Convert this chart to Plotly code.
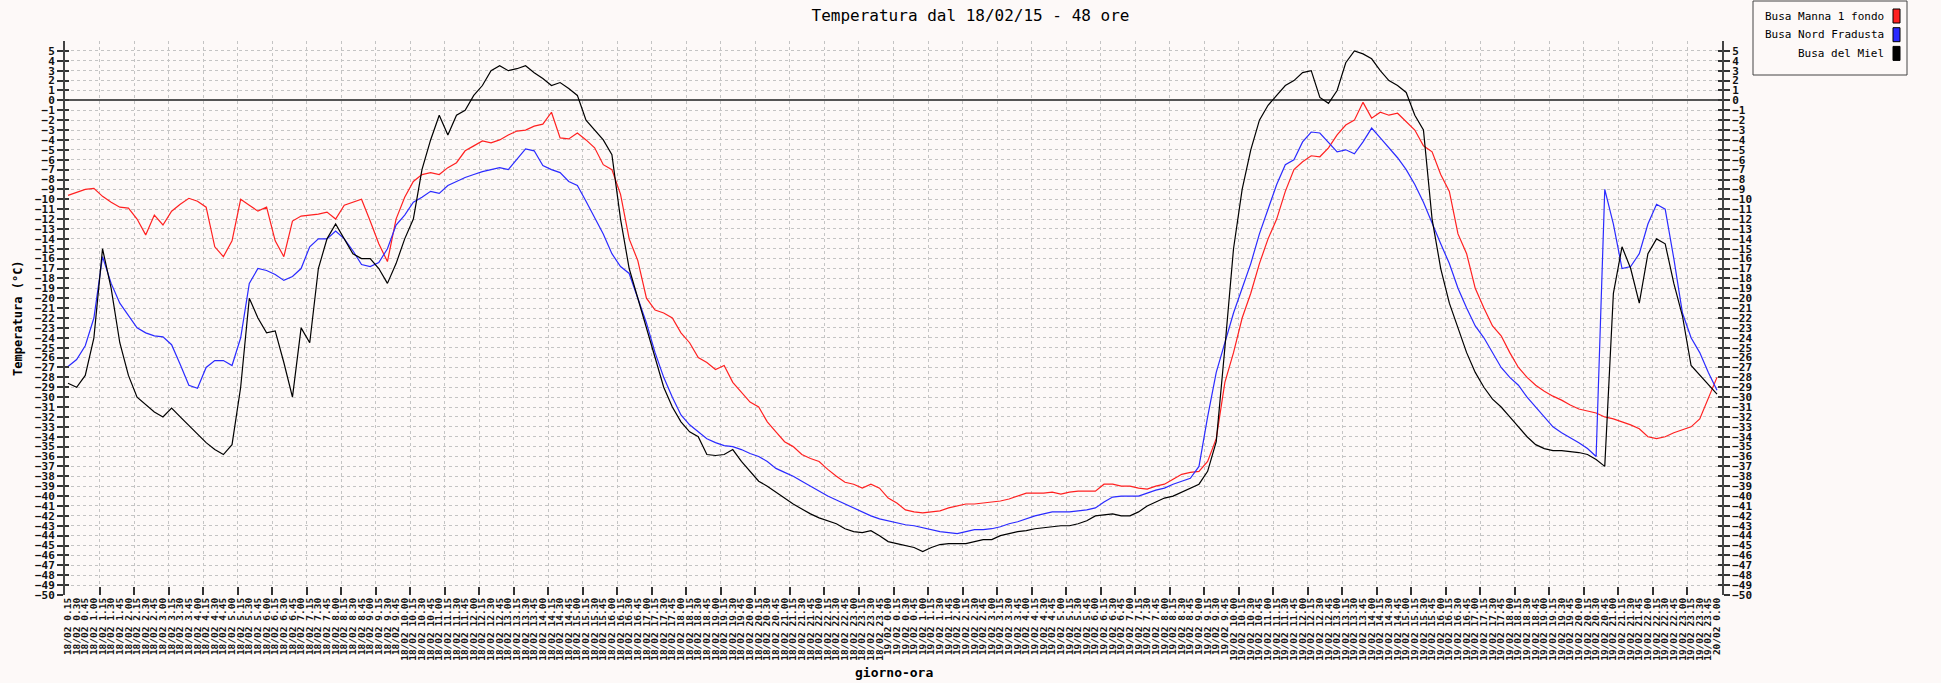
import plotly.graph_objects as go

# ---------------- data ----------------
red = [-9.6, -9.3, -9.0, -8.9, -9.7, -10.3, -10.8, -10.9, -12.0, -13.6,
       -11.6, -12.6, -11.2, -10.5, -9.9, -10.2, -10.8, -14.8, -15.8, -14.2,
       -10.0, -10.6, -11.2, -10.8, -14.2, -15.8, -12.2, -11.7, -11.6, -11.5,
       -11.3, -12.0, -10.6, -10.3, -10.0, -12.2, -14.5, -16.3, -12.0, -9.8,
       -8.2, -7.5, -7.3, -7.5, -6.8, -6.3, -5.1, -4.6, -4.1, -4.3,
       -4.0, -3.5, -3.1, -3.0, -2.6, -2.4, -1.2, -3.8, -3.9, -3.3,
       -4.0, -4.8, -6.5, -7.0, -9.5, -14.0, -16.2, -20.0, -21.2, -21.5,
       -22.0, -23.5, -24.5, -26.0, -26.5, -27.2, -26.8, -28.5, -29.5, -30.5,
       -31.0, -32.5, -33.5, -34.5, -35.0, -35.8, -36.2, -36.5, -37.3, -38.0,
       -38.6, -38.8, -39.2, -38.8, -39.2, -40.2, -40.7, -41.4, -41.6, -41.7,
       -41.6, -41.5, -41.2, -41.0, -40.8, -40.8, -40.7, -40.6, -40.5, -40.3,
       -40.0, -39.7, -39.7, -39.7, -39.6, -39.8, -39.6, -39.5, -39.5, -39.5,
       -38.8, -38.8, -39.0, -39.0, -39.2, -39.3, -39.0, -38.8, -38.3, -37.8,
       -37.6, -37.5, -36.5, -34.2, -28.5, -25.5, -22.0, -19.5, -16.5, -14.0,
       -12.0, -9.2, -7.0, -6.2, -5.6, -5.7, -4.8, -3.5, -2.5, -2.0,
       -0.2, -1.8, -1.2, -1.5, -1.3, -2.2, -3.0, -4.6, -5.2, -7.5,
       -9.2, -13.5, -15.5, -19.0, -21.0, -22.8, -23.8, -25.5, -27.0, -28.0,
       -28.8, -29.4, -29.9, -30.3, -30.8, -31.2, -31.4, -31.6, -32.0, -32.2,
       -32.5, -32.8, -33.2, -34.0, -34.2, -34.0, -33.6, -33.3, -33.0, -32.2,
       -30.0, -28.0]

blue = [-26.9, -26.2, -24.8, -22.0, -15.8, -18.5, -20.5, -21.8, -23.0, -23.5,
        -23.8, -23.9, -24.7, -26.7, -28.8, -29.1, -27.0, -26.3, -26.3, -26.8,
        -24.0, -18.5, -17.0, -17.2, -17.6, -18.2, -17.8, -17.0, -14.8, -14.0,
        -14.0, -13.2, -14.0, -15.2, -16.6, -16.8, -16.4, -15.0, -12.6, -11.6,
        -10.3, -9.8, -9.2, -9.4, -8.6, -8.2, -7.8, -7.5, -7.2, -7.0,
        -6.8, -7.0, -6.0, -4.9, -5.1, -6.6, -7.0, -7.3, -8.2, -8.6,
        -10.2, -11.8, -13.5, -15.5, -16.8, -17.5, -20.0, -22.5, -25.5, -28.0,
        -30.0, -31.8, -32.8, -33.5, -34.2, -34.6, -34.9, -35.0, -35.3, -35.7,
        -36.0, -36.5, -37.2, -37.6, -38.0, -38.5, -39.0, -39.5, -40.0, -40.4,
        -40.8, -41.2, -41.6, -42.0, -42.3, -42.5, -42.7, -42.9, -43.0, -43.2,
        -43.4, -43.6, -43.7, -43.8, -43.6, -43.4, -43.4, -43.3, -43.1, -42.8,
        -42.6, -42.3, -42.0, -41.8, -41.6, -41.6, -41.6, -41.5, -41.4, -41.2,
        -40.6, -40.1, -40.0, -40.0, -40.0, -39.7, -39.4, -39.2, -38.8, -38.5,
        -38.2, -37.0, -32.0, -27.5, -24.5, -21.5, -19.0, -16.5, -13.5, -11.0,
        -8.5, -6.5, -6.0, -4.2, -3.2, -3.3, -4.2, -5.2, -5.0, -5.4,
        -4.2, -2.8, -3.8, -4.8, -5.8, -7.0, -8.5, -10.3, -12.5, -14.5,
        -16.5, -19.0, -21.0, -22.8, -24.0, -25.5, -27.0, -28.0, -28.8, -30.0,
        -31.0, -32.0, -33.0, -33.6, -34.1, -34.6, -35.2, -36.0, -9.0, -12.5,
        -17.0, -16.8, -15.5, -12.5, -10.5, -11.0, -16.0, -21.5, -24.0, -25.5,
        -27.5, -29.3]

black = [-28.6, -29.0, -27.8, -24.0, -15.0, -19.0, -24.5, -27.8, -30.0, -30.8,
         -31.5, -32.0, -31.1, -32.0, -32.9, -33.8, -34.6, -35.3, -35.8, -34.8,
         -29.0, -20.0, -22.0, -23.5, -23.3, -26.5, -30.0, -23.0, -24.5, -17.0,
         -14.0, -12.5, -14.0, -15.5, -16.0, -16.0, -17.0, -18.5, -16.5, -14.0,
         -12.0, -7.0, -4.0, -1.5, -3.5, -1.5, -1.0, 0.5, 1.5, 3.0,
         3.5, 3.0, 3.2, 3.5, 2.8, 2.2, 1.5, 1.8, 1.2, 0.5,
         -2.0, -3.0, -4.0, -5.5, -12.0, -17.0, -20.0, -23.0, -26.0, -29.0,
         -31.0, -32.5, -33.5, -34.0, -35.8, -35.9, -35.8, -35.3, -36.5, -37.5,
         -38.5, -39.0, -39.6, -40.2, -40.8, -41.3, -41.8, -42.2, -42.5, -42.8,
         -43.3, -43.6, -43.7, -43.5, -44.0, -44.6, -44.8, -45.0, -45.2, -45.6,
         -45.2, -44.9, -44.8, -44.8, -44.8, -44.6, -44.4, -44.4, -44.0, -43.8,
         -43.6, -43.5, -43.3, -43.2, -43.1, -43.0, -43.0, -42.8, -42.5, -42.0,
         -41.9, -41.8, -42.0, -42.0, -41.6, -41.0, -40.6, -40.2, -40.0, -39.6,
         -39.2, -38.8, -37.5, -34.5, -25.0, -15.0, -9.0, -5.0, -2.0, -0.5,
         0.5, 1.5, 2.0, 2.8, 3.0, 0.3, -0.3, 1.0, 3.8, 5.0,
         4.7, 4.2, 3.0, 2.0, 1.5, 0.8, -1.5, -3.0, -12.0, -17.0,
         -20.5, -23.0, -25.5, -27.5, -29.0, -30.2, -31.0, -32.0, -33.0, -34.0,
         -34.8, -35.2, -35.4, -35.4, -35.5, -35.6, -35.8, -36.3, -37.0, -19.5,
         -14.8, -17.0, -20.5, -15.5, -14.0, -14.5, -18.5, -21.8, -26.8, -27.8,
         -28.7, -29.7]

series_names = ["Busa Manna 1 fondo", "Busa Nord Fradusta", "Busa del Miel"]
series_colors = ["#ff2020", "#2a2aff", "#000000"]

# tick labels: every 15 minutes from 18/02 0.15 to 20/02 0.00
all_days = ["18/02", "19/02", "20/02"]
labels = []
for di in range(2):
    for h in range(24):
        for m in (15, 30, 45, 60):
            if m == 60:
                if h == 23:
                    labels.append(f"{all_days[di+1]} 0.00")
                else:
                    labels.append(f"{all_days[di]} {h+1}.00")
            else:
                labels.append(f"{all_days[di]} {h}.{m}")

idx = list(range(len(labels)))

# ---------------- layout geometry ----------------
W, H = 1941, 683
ML, MR, MT, MB = 65, 219, 41, 88
PW, PH = W - ML - MR, H - MT - MB
XR = [-0.347, len(labels) - 1 + 0.58]
grid_x = [XR[0] + k * (XR[1] - XR[0]) / 48 for k in range(49)]

def px(x):
    return (x - ML) / PW

def py(y):
    return 1 - (y - MT) / PH

MONO = "DejaVu Sans Mono"
BG = "#fdf9f8"

fig = go.Figure()
for name, vals, col in zip(series_names, [red, blue, black], series_colors):
    fig.add_trace(go.Scatter(x=idx, y=vals, mode="lines", name=name,
                             line=dict(color=col, width=1.2),
                             showlegend=False, hoverinfo="skip"))
# dummy traces to register overlay axes
for xa, ya in [("x2", "y"), ("x", "y2"), ("x", "y3"), ("x", "y4")]:
    fig.add_trace(go.Scatter(x=[None], y=[None], xaxis=xa, yaxis=ya,
                             showlegend=False, hoverinfo="skip"))

ytick = list(range(-50, 6))
yfont = dict(family=MONO, size=11, color="#111", weight="bold")

fig.update_layout(
    template="none",
    width=W, height=H,
    margin=dict(l=ML, r=MR, t=MT, b=MB, pad=0, autoexpand=False),
    paper_bgcolor=BG, plot_bgcolor=BG,
    showlegend=False,
    title=dict(text="Temperatura dal 18/02/15 - 48 ore", x=0.5, xref="container",
               xanchor="center", y=1 - 15 / H, yref="container", yanchor="middle",
               font=dict(family=MONO, size=16, color="#000")),
    xaxis=dict(range=XR, tickmode="array", tickvals=idx, ticktext=labels,
               tickangle=-90, showgrid=False, zeroline=False, showline=False,
               automargin=False,
               ticks="", tickfont=dict(family=MONO, size=9.5, color="#111", weight="bold")),
    xaxis2=dict(overlaying="x", range=XR, tickmode="array", tickvals=grid_x,
                showticklabels=False, ticks="inside", ticklen=8, tickcolor="#333",
                tickwidth=1.5, showgrid=True, gridcolor="#c4c4c4", griddash="dot",
                gridwidth=1, zeroline=False, showline=False, anchor="y", side="bottom",
                automargin=False),
    yaxis=dict(range=[-50, 6], tickmode="array", tickvals=ytick, ticks="outside",
               ticklen=6, tickcolor="#333", tickwidth=1.5, showline=True,
               linecolor="#444", linewidth=2, showgrid=True, gridcolor="#c4c4c4",
               griddash="dot", gridwidth=1, zeroline=True, zerolinecolor="#555",
               zerolinewidth=1.5, tickfont=yfont, side="left", automargin=False),
    yaxis2=dict(overlaying="y", range=[-50, 6], tickmode="array", tickvals=ytick,
                ticks="outside", ticklen=6, tickcolor="#333", tickwidth=1.5,
                showline=True, linecolor="#444", linewidth=2, showgrid=False,
                zeroline=False, tickfont=yfont, side="right", anchor="x",
                automargin=False),
    yaxis3=dict(overlaying="y", range=[-50, 6], tickmode="array", tickvals=ytick,
                ticks="inside", ticklen=4, tickcolor="#333", tickwidth=1.5,
                showticklabels=False, showline=False, showgrid=False,
                zeroline=False, side="left", anchor="x", automargin=False),
    yaxis4=dict(overlaying="y", range=[-50, 6], tickmode="array", tickvals=ytick,
                ticks="inside", ticklen=4, tickcolor="#333", tickwidth=1.5,
                showticklabels=False, showline=False, showgrid=False,
                zeroline=False, side="right", anchor="x", automargin=False),
)

annotations = [
    dict(text="<b>Temperatura (°C)</b>", x=px(18), y=0.5, xref="paper", yref="paper",
         textangle=-90, showarrow=False, xanchor="center", yanchor="middle",
         font=dict(family=MONO, size=12, color="#000")),
    dict(text="<b>giorno-ora</b>", x=0.5, y=py(672), xref="paper", yref="paper",
         showarrow=False, xanchor="center", yanchor="middle",
         font=dict(family=MONO, size=13, color="#000")),
]
shapes = [dict(type="rect", xref="paper", yref="paper", x0=px(1753), x1=px(1907),
               y0=py(75), y1=py(1), line=dict(color="#444", width=1), fillcolor=BG)]
for k, (name, col) in enumerate(zip(series_names, series_colors)):
    yc = 16 + 18.7 * k
    annotations.append(dict(text=name, x=px(1886), y=py(yc), xref="paper", yref="paper",
                            showarrow=False, xanchor="right", yanchor="middle",
                            font=dict(family=MONO, size=11, color="#000")))
    shapes.append(dict(type="rect", xref="paper", yref="paper", x0=px(1893), x1=px(1900),
                       y0=py(yc + 7), y1=py(yc - 7), line=dict(color="#000", width=1),
                       fillcolor=col))
fig.update_layout(annotations=annotations, shapes=shapes)

fig.write_html("out.html", config={"displayModeBar": False},
               post_script="document.body.style.margin='0';document.body.style.padding='0';"
                           "document.body.style.background='" + BG + "';")
